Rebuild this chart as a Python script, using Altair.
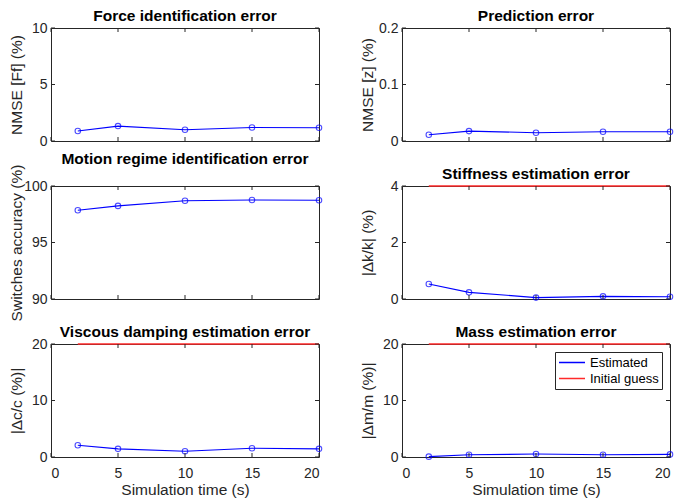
import altair as alt
import pandas as pd

time_s = [2, 5, 10, 15, 20]
force_err = [0.88, 1.32, 0.99, 1.20, 1.17]
pred_err = [0.011, 0.0175, 0.0146, 0.0164, 0.0164]
switch_acc = [97.85, 98.24, 98.70, 98.76, 98.74]
stiff_err = [0.53, 0.235, 0.05, 0.094, 0.08]
damp_err = [2.07, 1.44, 1.03, 1.55, 1.44]
mass_err = [0.06, 0.40, 0.52, 0.40, 0.46]
stiff_guess = [4, 4, 4, 4, 4]
damp_guess = [20, 20, 20, 20, 20]
mass_guess = [20, 20, 20, 20, 20]
x_ticks = [0, 5, 10, 15, 20]

W, H = 268, 113
AX = "#262626"
BLUE = "#0000ff"
RED = "#ff2a2a"
FONT = "Liberation Sans"


def panel(title, ytitle, ydom, yticks, est, guess=None, legend=False, bottom=False):
    xscale = alt.Scale(domain=[0, 20], nice=False, zero=False)
    yscale = alt.Scale(domain=ydom, nice=False, zero=False)
    xtitle = "Simulation time (s)" if bottom else ""
    xaxis = alt.Axis(values=x_ticks, labels=bottom, ticks=False, domain=False, grid=False,
                     title=xtitle, format="~r", labelPadding=9, titlePadding=2)
    yaxis = alt.Axis(values=yticks, ticks=False, domain=False, grid=False, title=ytitle, format="~r",
                     labelPadding=4, titleX=-27, titleY=H / 2, titleAlign="center",
                     titleBaseline="bottom", titleAngle=270)
    df = pd.DataFrame({"t": time_s, "v": est, "series": ["Estimated"] * len(time_s)})
    if legend:
        cscale = alt.Scale(domain=["Estimated", "Initial guess"], range=[BLUE, RED])
        leg = alt.Legend(title=None, orient="top-right", offset=8, strokeColor=AX, fillColor="white",
                         padding=3, labelFontSize=13, labelFont=FONT, labelColor="black",
                         symbolType="stroke", symbolSize=676, symbolStrokeWidth=1.3,
                         rowPadding=1, clipHeight=15, labelOffset=4)
        color = alt.Color("series:N", scale=cscale, legend=leg)
    else:
        color = alt.value(BLUE)
    base = alt.Chart(df)
    line = base.mark_line(strokeWidth=1.1).encode(
        x=alt.X("t:Q", scale=xscale, axis=xaxis, title=xtitle),
        y=alt.Y("v:Q", scale=yscale, axis=yaxis, title=ytitle),
        color=color,
    )
    pts = base.mark_point(shape="circle", filled=False, size=30, strokeWidth=1.1).encode(
        x=alt.X("t:Q", title=xtitle), y=alt.Y("v:Q", title=ytitle),
        color=alt.value(BLUE),
    )
    layers = [line, pts]
    if guess is not None:
        dg = pd.DataFrame({"t": time_s, "v": guess, "series": ["Initial guess"] * len(time_s)})
        gcol = color if legend else alt.value(RED)
        gl = alt.Chart(dg).mark_line(strokeWidth=1.5).encode(
            x=alt.X("t:Q", title=xtitle), y=alt.Y("v:Q", title=ytitle), color=gcol)
        layers.append(gl)
    dxt = pd.DataFrame({"t": x_ticks})
    dyt = pd.DataFrame({"v": yticks})
    tb = alt.Chart(dxt).mark_rule(color=AX, strokeWidth=1).encode(
        x=alt.X("t:Q", title=xtitle), y=alt.value(H), y2=alt.value(H - 4))
    tt = alt.Chart(dxt).mark_rule(color=AX, strokeWidth=1).encode(
        x=alt.X("t:Q", title=xtitle), y=alt.value(0), y2=alt.value(4))
    tl = alt.Chart(dyt).mark_rule(color=AX, strokeWidth=1).encode(
        y=alt.Y("v:Q", title=ytitle), x=alt.value(0), x2=alt.value(4))
    tr = alt.Chart(dyt).mark_rule(color=AX, strokeWidth=1).encode(
        y=alt.Y("v:Q", title=ytitle), x=alt.value(W), x2=alt.value(W - 4))
    layers = layers + [tb, tt, tl, tr]
    return alt.layer(*layers).properties(
        width=W, height=H,
        title=alt.TitleParams(title, fontSize=15.5, fontWeight="bold", font=FONT, color="black",
                              anchor="middle", frame="group", offset=-3),
    )


p1 = panel("Force identification error", "NMSE [Ff] (%)", [0, 10], [0, 5, 10], force_err)
p2 = panel("Prediction error", "NMSE [z] (%)", [0, 0.2], [0, 0.1, 0.2], pred_err)
p3 = panel("Motion regime identification error", "Switches accuracy (%)", [90, 100], [90, 95, 100], switch_acc)
p4 = panel("Stiffness estimation error", "|Δk/k| (%)", [0, 4], [0, 2, 4], stiff_err, stiff_guess)
p5 = panel("Viscous damping estimation error", "|Δc/c (%)|", [0, 20], [0, 10, 20], damp_err, damp_guess, bottom=True)
p6 = panel("Mass estimation error", "|Δm/m (%)|", [0, 20], [0, 10, 20], mass_err, mass_guess, legend=True, bottom=True)

chart = alt.concat(p1, p2, p3, p4, p5, p6, columns=2, spacing={"row": 45, "column": 83},
                   bounds="flush").resolve_scale(color="independent").configure_view(
    stroke=AX, strokeWidth=1
).configure_axis(
    labelFont=FONT, titleFont=FONT, labelFontSize=14, titleFontSize=15.5,
    labelColor=AX, titleColor=AX, titleFontWeight="normal",
).properties(padding={"left": 0, "top": 0, "right": 5, "bottom": 0}, background="white")

chart.save("out.html", embed_options={"renderer": "svg", "actions": False})
